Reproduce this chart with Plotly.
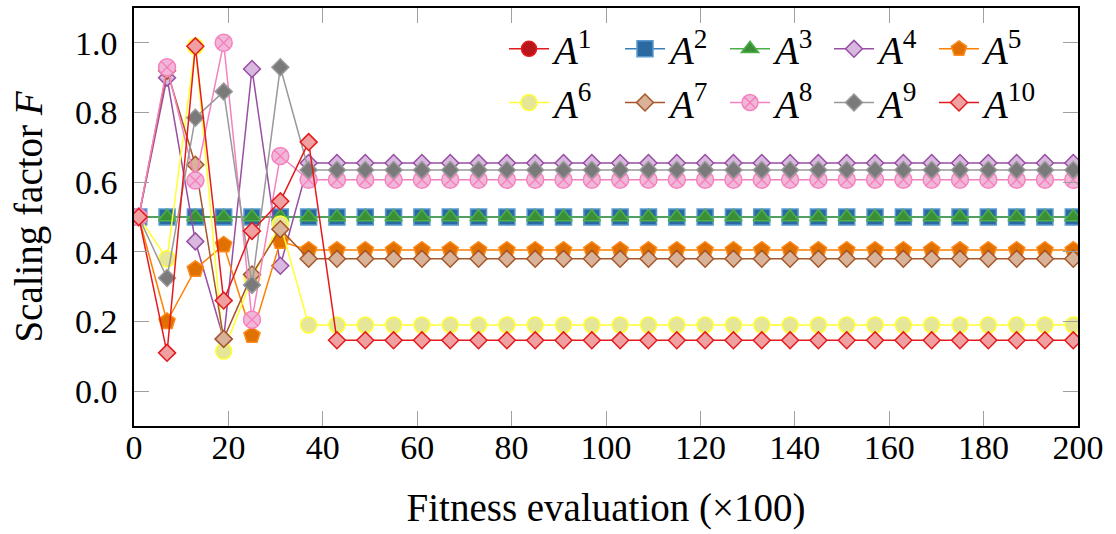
import plotly.graph_objects as go

# ---- data ----
x_eval = list(range(1, 200, 6))  # 1, 7, ..., 199
n = len(x_eval)

A1 = [0.5] * n
A2 = [0.5] * n
A3 = [0.5] * n
A4 = [0.50, 0.90, 0.43, 0.15, 0.925, 0.36] + [0.655] * (n - 6)
A5 = [0.50, 0.20, 0.35, 0.42, 0.16, 0.43] + [0.405] * (n - 6)
A6 = [0.50, 0.38, 0.99, 0.115, 0.325, 0.48] + [0.19] * (n - 6)
A7 = [0.50, 0.92, 0.65, 0.15, 0.335, 0.465] + [0.38] * (n - 6)
A8 = [0.50, 0.93, 0.605, 1.00, 0.205, 0.675] + [0.607] * (n - 6)
A9 = [0.50, 0.325, 0.785, 0.86, 0.305, 0.93] + [0.635] * (n - 6)
A10 = [0.50, 0.11, 0.99, 0.26, 0.46, 0.545, 0.715] + [0.146] * (n - 7)

series = [A1, A2, A3, A4, A5, A6, A7, A8, A9, A10]
names = ["<i>A</i><sup>%d</sup>" % (i + 1) for i in range(10)]

x_ticks = list(range(0, 201, 20))
y_ticks = [0.0, 0.2, 0.4, 0.6, 0.8, 1.0]

# ---- styles ----
line_colors = ["#e41a1c", "#377eb8", "#4daf4a", "#984ea3", "#ff7f00",
               "#ffff33", "#a65628", "#f781bf", "#999999", "#e41a1c"]
marker_fill = ["#b8161a", "#2a6aa0", "#3a8f36", "#d8b8de", "#e07000",
               "#e6e699", "#d8b399", "#f0b8d8", "#7a7a7a", "#f0a0a0"]
marker_line = ["#e41a1c", "#5a9ad0", "#4daf4a", "#984ea3", "#ff8c1a",
               "#ffff33", "#a65628", "#f781bf", "#999999", "#e41a1c"]
symbols = ["circle", "square", "triangle-up", "diamond", "pentagon",
           "circle", "diamond", "circle-x", "diamond", "diamond"]
sizes = [15, 16, 15, 13, 17, 16, 13, 17, 13, 13]

FONT = "Liberation Serif"
legend_ids = ["legend", "legend2", "legend3", "legend4", "legend5"]

fig = go.Figure()
for i, ys in enumerate(series):
    fig.add_trace(go.Scatter(
        x=x_eval, y=ys, name=names[i], mode="lines+markers",
        line=dict(color=line_colors[i], width=1.5),
        marker=dict(symbol=symbols[i], size=sizes[i], color=marker_fill[i],
                    line=dict(color=marker_line[i], width=1.5)),
        legend=legend_ids[i % 5],
    ))

legend_common = dict(
    orientation="v", xanchor="left", yanchor="top",
    font=dict(family=FONT, size=39, color="black"),
    bgcolor="rgba(255,255,255,0)", borderwidth=0,
    itemwidth=40, tracegroupgap=0,
)
col_px = [508, 624, 729, 833, 938]
L, R, T, B = 134, 38, 6, 108
W = 1116 - L - R
H = 534 - T - B

legends = {}
for k, lid in enumerate(legend_ids):
    legends[lid] = dict(x=(col_px[k] - 4 - L) / W, y=(426 - 15) / H, **legend_common)

fig.update_layout(
    width=1116, height=534,
    margin=dict(l=L, r=R, t=T, b=B),
    paper_bgcolor="white", plot_bgcolor="white",
    font=dict(family=FONT, size=34, color="black"),
    xaxis=dict(
        range=[0, 200], tickvals=x_ticks, ticktext=[str(v) for v in x_ticks],
        ticks="inside", ticklen=15, tickcolor="#a0a0a0", tickwidth=1.2,
        showline=True, linecolor="black", linewidth=1.5, mirror="ticks",
        showgrid=False, zeroline=False, ticklabelstandoff=-10,
        title=dict(text="Fitness evaluation (×100)", standoff=29,
                   font=dict(family=FONT, size=39)),
        tickfont=dict(family=FONT, size=34),
    ),
    yaxis=dict(
        range=[-0.1, 1.1], tickvals=y_ticks, tickformat=".1f",
        ticks="inside", ticklen=15, tickcolor="#a0a0a0", tickwidth=1.2,
        showline=True, linecolor="black", linewidth=1.5, mirror="ticks",
        showgrid=False, zeroline=False, ticklabelstandoff=8,
        title=dict(text="Scaling factor <i>F</i>", standoff=20,
                   font=dict(family=FONT, size=39)),
        tickfont=dict(family=FONT, size=34),
    ),
    **legends,
)

fig.write_html("out.html")
